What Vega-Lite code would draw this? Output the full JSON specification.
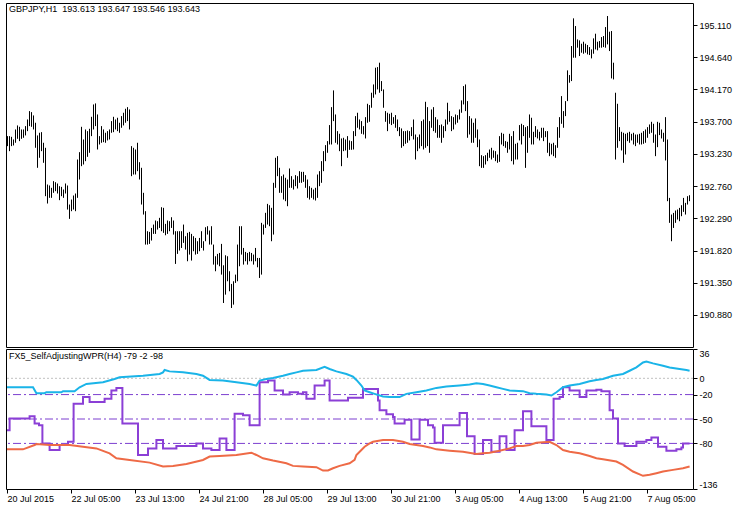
{
"$schema": "https://vega.github.io/schema/vega-lite/v6.json",
"background": "white",
"padding": {"left": 2, "top": 2, "right": 0, "bottom": 0},
"spacing": 2,
"bounds": "flush",
"config": {
  "view": {"stroke": "black", "strokeWidth": 1},
  "font": "Liberation Sans",
  "axis": {"labelFont": "Liberation Sans", "labelFontSize": 9, "labelColor": "black", "tickColor": "black", "tickSize": 4, "domain": false, "grid": false, "labelOverlap": false, "labelPadding": 2, "title": null},
  "text": {"font": "Liberation Sans", "fontSize": 9, "color": "black", "align": "left", "baseline": "top"}
},
"datasets": {
"bars": [
{"i":0,"h":193.489,"l":193.343},{"i":1,"h":193.489,"l":193.270},{"i":2,"h":193.479,"l":193.343},{"i":3,"h":193.440,"l":193.353},{"i":4,"h":193.586,"l":193.392},{"i":5,"h":193.645,"l":193.450},{"i":6,"h":193.625,"l":193.416},{"i":7,"h":193.586,"l":193.450},{"i":8,"h":193.586,"l":193.465},{"i":9,"h":193.635,"l":193.499},
{"i":10,"h":193.732,"l":193.562},{"i":11,"h":193.854,"l":193.635},{"i":12,"h":193.839,"l":193.625},{"i":13,"h":193.791,"l":193.586},{"i":14,"h":193.684,"l":193.319},{"i":15,"h":193.499,"l":193.027},{"i":16,"h":193.538,"l":193.173},{"i":17,"h":193.547,"l":193.270},{"i":18,"h":193.392,"l":193.100},{"i":19,"h":193.319,"l":192.613},
{"i":20,"h":192.783,"l":192.506},{"i":21,"h":192.769,"l":192.589},{"i":22,"h":192.735,"l":192.589},{"i":23,"h":192.832,"l":192.662},{"i":24,"h":192.817,"l":192.686},{"i":25,"h":192.798,"l":192.652},{"i":26,"h":192.759,"l":192.555},{"i":27,"h":192.749,"l":192.613},{"i":28,"h":192.710,"l":192.589},{"i":29,"h":192.798,"l":192.652},
{"i":30,"h":192.769,"l":192.418},{"i":31,"h":192.491,"l":192.282},{"i":32,"h":192.564,"l":192.394},{"i":33,"h":192.623,"l":192.418},{"i":34,"h":192.652,"l":192.394},{"i":35,"h":193.148,"l":192.589},{"i":36,"h":193.255,"l":192.856},{"i":37,"h":193.625,"l":193.051},{"i":38,"h":193.440,"l":193.075},{"i":39,"h":193.586,"l":193.124},
{"i":40,"h":193.562,"l":193.187},{"i":41,"h":193.596,"l":193.246},{"i":42,"h":193.771,"l":193.489},{"i":43,"h":193.951,"l":193.586},{"i":44,"h":193.966,"l":193.635},{"i":45,"h":193.805,"l":193.294},{"i":46,"h":193.489,"l":193.367},{"i":47,"h":193.635,"l":193.392},{"i":48,"h":193.586,"l":193.401},{"i":49,"h":193.538,"l":193.392},
{"i":50,"h":193.562,"l":193.426},{"i":51,"h":193.586,"l":193.440},{"i":52,"h":193.708,"l":193.538},{"i":53,"h":193.771,"l":193.547},{"i":54,"h":193.732,"l":193.586},{"i":55,"h":193.757,"l":193.562},{"i":56,"h":193.684,"l":193.538},{"i":57,"h":193.781,"l":193.611},{"i":58,"h":193.830,"l":193.645},{"i":59,"h":193.888,"l":193.684},
{"i":60,"h":193.912,"l":193.708},{"i":61,"h":193.878,"l":193.586},{"i":62,"h":193.343,"l":192.905},{"i":63,"h":193.319,"l":192.929},{"i":64,"h":193.294,"l":192.929},{"i":65,"h":193.392,"l":192.978},{"i":66,"h":193.109,"l":192.856},{"i":67,"h":193.027,"l":192.491},{"i":68,"h":192.662,"l":192.345},{"i":69,"h":192.394,"l":191.907},
{"i":70,"h":192.102,"l":191.907},{"i":71,"h":192.092,"l":191.917},{"i":72,"h":192.150,"l":191.966},{"i":73,"h":192.199,"l":192.063},{"i":74,"h":192.258,"l":192.063},{"i":75,"h":192.248,"l":192.126},{"i":76,"h":192.297,"l":192.150},{"i":77,"h":192.452,"l":192.102},{"i":78,"h":192.443,"l":192.078},{"i":79,"h":192.209,"l":192.043},
{"i":80,"h":192.258,"l":192.063},{"i":81,"h":192.248,"l":192.102},{"i":82,"h":192.306,"l":192.150},{"i":83,"h":192.258,"l":192.053},{"i":84,"h":192.102,"l":191.625},{"i":85,"h":192.102,"l":191.771},{"i":86,"h":192.102,"l":191.820},{"i":87,"h":192.102,"l":191.858},{"i":88,"h":192.199,"l":191.932},{"i":89,"h":192.029,"l":191.834},
{"i":90,"h":192.078,"l":191.664},{"i":91,"h":192.092,"l":191.761},{"i":92,"h":192.063,"l":191.674},{"i":93,"h":192.029,"l":191.810},{"i":94,"h":192.004,"l":191.761},{"i":95,"h":191.956,"l":191.771},{"i":96,"h":192.004,"l":191.810},{"i":97,"h":192.102,"l":191.858},{"i":98,"h":191.956,"l":191.820},{"i":99,"h":192.160,"l":191.956},
{"i":100,"h":192.175,"l":192.053},{"i":101,"h":192.112,"l":191.907},{"i":102,"h":192.175,"l":191.907},{"i":103,"h":191.907,"l":191.615},{"i":104,"h":191.737,"l":191.518},{"i":105,"h":191.771,"l":191.615},{"i":106,"h":191.785,"l":191.591},{"i":107,"h":191.917,"l":191.469},{"i":108,"h":191.605,"l":191.055},{"i":109,"h":191.751,"l":191.177},
{"i":110,"h":191.737,"l":191.372},{"i":111,"h":191.518,"l":191.226},{"i":112,"h":191.333,"l":190.982},{"i":113,"h":191.372,"l":191.031},{"i":114,"h":191.469,"l":191.348},{"i":115,"h":191.907,"l":191.372},{"i":116,"h":192.175,"l":191.591},{"i":117,"h":192.175,"l":191.761},{"i":118,"h":191.858,"l":191.615},{"i":119,"h":191.800,"l":191.664},
{"i":120,"h":191.785,"l":191.615},{"i":121,"h":191.800,"l":191.664},{"i":122,"h":191.785,"l":191.664},{"i":123,"h":191.761,"l":191.615},{"i":124,"h":191.858,"l":191.664},{"i":125,"h":191.712,"l":191.576},{"i":126,"h":191.712,"l":191.420},{"i":127,"h":192.224,"l":191.469},{"i":128,"h":192.199,"l":192.053},{"i":129,"h":192.370,"l":192.150},
{"i":130,"h":192.501,"l":192.199},{"i":131,"h":192.481,"l":192.175},{"i":132,"h":192.443,"l":191.956},{"i":133,"h":192.808,"l":192.053},{"i":134,"h":193.173,"l":192.735},{"i":135,"h":193.197,"l":192.905},{"i":136,"h":193.027,"l":192.662},{"i":137,"h":192.905,"l":192.662},{"i":138,"h":192.929,"l":192.564},{"i":139,"h":192.881,"l":192.540},
{"i":140,"h":192.856,"l":192.467},{"i":141,"h":193.017,"l":192.735},{"i":142,"h":192.905,"l":192.735},{"i":143,"h":192.856,"l":192.710},{"i":144,"h":192.920,"l":192.759},{"i":145,"h":192.905,"l":192.725},{"i":146,"h":192.978,"l":192.808},{"i":147,"h":192.968,"l":192.808},{"i":148,"h":192.968,"l":192.822},{"i":149,"h":192.920,"l":192.735},
{"i":150,"h":192.856,"l":192.589},{"i":151,"h":192.759,"l":192.564},{"i":152,"h":192.735,"l":192.589},{"i":153,"h":192.710,"l":192.564},{"i":154,"h":192.735,"l":192.550},{"i":155,"h":192.929,"l":192.589},{"i":156,"h":192.978,"l":192.759},{"i":157,"h":193.124,"l":192.808},{"i":158,"h":193.270,"l":192.978},{"i":159,"h":193.358,"l":193.124},
{"i":160,"h":193.416,"l":193.246},{"i":161,"h":193.650,"l":193.367},{"i":162,"h":193.912,"l":193.367},{"i":163,"h":194.156,"l":193.708},{"i":164,"h":193.805,"l":193.392},{"i":165,"h":193.562,"l":193.367},{"i":166,"h":193.523,"l":193.270},{"i":167,"h":193.455,"l":193.051},{"i":168,"h":193.465,"l":193.270},{"i":169,"h":193.440,"l":193.280},
{"i":170,"h":193.489,"l":193.173},{"i":171,"h":193.426,"l":193.289},{"i":172,"h":193.416,"l":193.289},{"i":173,"h":193.562,"l":193.294},{"i":174,"h":193.781,"l":193.489},{"i":175,"h":193.830,"l":193.611},{"i":176,"h":193.732,"l":193.586},{"i":177,"h":193.708,"l":193.523},{"i":178,"h":193.635,"l":193.513},{"i":179,"h":193.766,"l":193.455},
{"i":180,"h":193.961,"l":193.684},{"i":181,"h":193.942,"l":193.698},{"i":182,"h":194.122,"l":193.903},{"i":183,"h":194.243,"l":194.049},{"i":184,"h":194.487,"l":194.097},{"i":185,"h":194.496,"l":194.170},{"i":186,"h":194.560,"l":194.122},{"i":187,"h":194.292,"l":194.146},{"i":188,"h":194.170,"l":193.903},{"i":189,"h":193.854,"l":193.698},
{"i":190,"h":193.830,"l":193.562},{"i":191,"h":193.815,"l":193.669},{"i":192,"h":193.830,"l":193.650},{"i":193,"h":193.766,"l":193.669},{"i":194,"h":193.796,"l":193.611},{"i":195,"h":193.732,"l":193.562},{"i":196,"h":193.620,"l":193.489},{"i":197,"h":193.601,"l":193.319},{"i":198,"h":193.562,"l":193.343},{"i":199,"h":193.562,"l":193.377},
{"i":200,"h":193.572,"l":193.392},{"i":201,"h":193.562,"l":193.426},{"i":202,"h":193.620,"l":193.489},{"i":203,"h":193.732,"l":193.440},{"i":204,"h":193.513,"l":193.148},{"i":205,"h":193.474,"l":193.270},{"i":206,"h":193.513,"l":193.309},{"i":207,"h":193.708,"l":193.343},{"i":208,"h":193.732,"l":193.294},{"i":209,"h":193.990,"l":193.319},
{"i":210,"h":193.912,"l":193.343},{"i":211,"h":193.708,"l":193.246},{"i":212,"h":193.878,"l":193.611},{"i":213,"h":193.912,"l":193.562},{"i":214,"h":193.766,"l":193.538},{"i":215,"h":193.732,"l":193.465},{"i":216,"h":193.650,"l":193.465},{"i":217,"h":193.659,"l":193.392},{"i":218,"h":193.635,"l":193.465},{"i":219,"h":193.732,"l":193.562},
{"i":220,"h":193.976,"l":193.659},{"i":221,"h":193.854,"l":193.698},{"i":222,"h":193.781,"l":193.562},{"i":223,"h":193.766,"l":193.586},{"i":224,"h":193.805,"l":193.659},{"i":225,"h":193.795,"l":193.684},{"i":226,"h":193.878,"l":193.732},{"i":227,"h":194.010,"l":193.830},{"i":228,"h":194.219,"l":193.951},{"i":229,"h":194.243,"l":193.854},
{"i":230,"h":194.000,"l":193.465},{"i":231,"h":193.781,"l":193.513},{"i":232,"h":193.747,"l":193.392},{"i":233,"h":193.684,"l":193.392},{"i":234,"h":193.747,"l":193.465},{"i":235,"h":193.586,"l":193.328},{"i":236,"h":193.440,"l":193.051},{"i":237,"h":193.211,"l":193.026},{"i":238,"h":193.197,"l":193.026},{"i":239,"h":193.211,"l":193.075},
{"i":240,"h":193.246,"l":193.124},{"i":241,"h":193.294,"l":193.173},{"i":242,"h":193.319,"l":193.148},{"i":243,"h":193.280,"l":193.173},{"i":244,"h":193.270,"l":193.124},{"i":245,"h":193.221,"l":193.100},{"i":246,"h":193.489,"l":193.114},{"i":247,"h":193.538,"l":193.367},{"i":248,"h":193.523,"l":193.343},{"i":249,"h":193.416,"l":193.319},
{"i":250,"h":193.406,"l":193.246},{"i":251,"h":193.523,"l":193.294},{"i":252,"h":193.489,"l":193.124},{"i":253,"h":193.562,"l":193.075},{"i":254,"h":193.377,"l":193.148},{"i":255,"h":193.392,"l":193.148},{"i":256,"h":193.650,"l":193.426},{"i":257,"h":193.669,"l":193.367},{"i":258,"h":193.650,"l":193.489},{"i":259,"h":193.620,"l":193.026},
{"i":260,"h":193.635,"l":193.246},{"i":261,"h":193.805,"l":193.465},{"i":262,"h":193.757,"l":193.367},{"i":263,"h":193.552,"l":193.367},{"i":264,"h":193.635,"l":193.474},{"i":265,"h":193.586,"l":193.455},{"i":266,"h":193.552,"l":193.426},{"i":267,"h":193.611,"l":193.465},{"i":268,"h":193.611,"l":193.416},{"i":269,"h":193.562,"l":193.474},
{"i":270,"h":193.562,"l":193.246},{"i":271,"h":193.392,"l":193.197},{"i":272,"h":193.377,"l":193.221},{"i":273,"h":193.392,"l":193.197},{"i":274,"h":193.357,"l":193.173},{"i":275,"h":193.620,"l":193.319},{"i":276,"h":193.766,"l":193.465},{"i":277,"h":194.073,"l":193.669},{"i":278,"h":193.854,"l":193.611},{"i":279,"h":194.000,"l":193.781},
{"i":280,"h":194.448,"l":194.000},{"i":281,"h":194.380,"l":194.268},{"i":282,"h":194.803,"l":194.292},{"i":283,"h":195.207,"l":194.633},{"i":284,"h":195.095,"l":194.633},{"i":285,"h":194.900,"l":194.779},{"i":286,"h":194.886,"l":194.657},{"i":287,"h":194.837,"l":194.706},{"i":288,"h":194.866,"l":194.691},{"i":289,"h":194.837,"l":194.706},
{"i":290,"h":194.818,"l":194.681},{"i":291,"h":194.788,"l":194.672},{"i":292,"h":194.754,"l":194.623},{"i":293,"h":194.915,"l":194.691},{"i":294,"h":194.983,"l":194.754},{"i":295,"h":194.866,"l":194.740},{"i":296,"h":194.876,"l":194.779},{"i":297,"h":194.934,"l":194.779},{"i":298,"h":194.949,"l":194.788},{"i":299,"h":195.080,"l":194.779},
{"i":300,"h":195.241,"l":194.827},{"i":301,"h":195.012,"l":194.730},{"i":302,"h":195.022,"l":194.331},{"i":303,"h":194.560,"l":194.316},{"i":304,"h":194.122,"l":193.148},{"i":305,"h":193.961,"l":193.319},{"i":306,"h":193.620,"l":193.416},{"i":307,"h":193.552,"l":193.280},{"i":308,"h":193.538,"l":193.100},{"i":309,"h":193.523,"l":193.221},
{"i":310,"h":193.538,"l":193.416},{"i":311,"h":193.552,"l":193.392},{"i":312,"h":193.523,"l":193.426},{"i":313,"h":193.538,"l":193.367},{"i":314,"h":193.513,"l":193.343},{"i":315,"h":193.513,"l":193.392},{"i":316,"h":193.523,"l":193.367},{"i":317,"h":193.538,"l":193.367},{"i":318,"h":193.562,"l":193.377},{"i":319,"h":193.586,"l":193.392},
{"i":320,"h":193.620,"l":193.465},{"i":321,"h":193.659,"l":193.523},{"i":322,"h":193.698,"l":193.538},{"i":323,"h":193.669,"l":193.392},{"i":324,"h":193.513,"l":193.197},{"i":325,"h":193.698,"l":193.328},{"i":326,"h":193.684,"l":193.504},{"i":327,"h":193.586,"l":193.455},{"i":328,"h":193.538,"l":193.406},{"i":329,"h":193.766,"l":193.134},
{"i":330,"h":193.440,"l":192.540},{"i":331,"h":192.588,"l":192.224},{"i":332,"h":192.345,"l":191.956},{"i":333,"h":192.369,"l":192.150},{"i":334,"h":192.404,"l":192.224},{"i":335,"h":192.418,"l":192.272},{"i":336,"h":192.442,"l":192.248},{"i":337,"h":192.481,"l":192.321},{"i":338,"h":192.588,"l":192.384},{"i":339,"h":192.515,"l":192.345},
{"i":340,"h":192.613,"l":192.491},{"i":341,"h":192.627,"l":192.540}
],
"cyan": [
{"i":0,"v":-11},{"i":13,"v":-11},{"i":14.7,"v":-18.3},{"i":18.8,"v":-18.3},{"i":19.7,"v":-17.1},{"i":27.2,"v":-17.1},{"i":28,"v":-15.8},{"i":33.8,"v":-15.8},{"i":36.3,"v":-11},{"i":39.7,"v":-6.9},{"i":48,"v":-4.9},{"i":53.8,"v":-0.8},{"i":56.3,"v":1.2},{"i":68,"v":3.2},{"i":76.3,"v":5.3},{"i":78,"v":7.3},{"i":78.8,"v":10.2},{"i":81.3,"v":8.5},{"i":88,"v":7.3},{"i":94.7,"v":5.3},{"i":98,"v":3.2},{"i":101.3,"v":-2},{"i":108,"v":-2.8},{"i":114.7,"v":-4.9},{"i":121.3,"v":-6.9},{"i":124.7,"v":-8.9},{"i":126.3,"v":-2.8},{"i":129.7,"v":-0.8},{"i":133,"v":0.4},{"i":138,"v":3.2},{"i":141.3,"v":5.3},{"i":144.7,"v":7.3},{"i":148,"v":9.3},{"i":154.7,"v":10.2},{"i":158.8,"v":14.2},{"i":161.3,"v":11.4},{"i":164.7,"v":8.5},{"i":169.7,"v":5.3},{"i":173,"v":2},{"i":174.7,"v":-2},{"i":177.2,"v":-8.9},{"i":178.8,"v":-15},{"i":181.3,"v":-17.1},{"i":183.8,"v":-19.1},{"i":188,"v":-22.3},{"i":191.3,"v":-23.1},{"i":196.3,"v":-23.1},{"i":199.7,"v":-19.1},{"i":204.7,"v":-17.1},{"i":209.7,"v":-15},{"i":214.7,"v":-11.8},{"i":219.7,"v":-10.2},{"i":226.3,"v":-8.9},{"i":231.3,"v":-7.7},{"i":234.7,"v":-6.1},{"i":238,"v":-6.9},{"i":241.3,"v":-8.9},{"i":244.7,"v":-11},{"i":248,"v":-13},{"i":251.3,"v":-15},{"i":258,"v":-15.8},{"i":261.3,"v":-18.3},{"i":264.7,"v":-19.1},{"i":269.7,"v":-19.9},{"i":272.2,"v":-21.1},{"i":274.7,"v":-17.1},{"i":278,"v":-11},{"i":281.3,"v":-8.9},{"i":286.3,"v":-6.9},{"i":291.3,"v":-3.7},{"i":294.7,"v":-2},{"i":298,"v":-0.8},{"i":303,"v":3.2},{"i":308,"v":5.3},{"i":311.3,"v":9.3},{"i":314.7,"v":13.4},{"i":318,"v":19.5},{"i":319.7,"v":20.7},{"i":323,"v":18.3},{"i":328,"v":15.4},{"i":331.3,"v":13.4},{"i":336.3,"v":11.4},{"i":339.7,"v":10.2},{"i":341.3,"v":9.3}
],
"purple": [
{"i":0,"v":-63.8},{"i":1.3,"v":-49.5},{"i":11.3,"v":-46.7},{"i":13.8,"v":-55.6},{"i":16,"v":-57.7},{"i":17.7,"v":-80},{"i":21.3,"v":-88.1},{"i":26.3,"v":-82},{"i":30.5,"v":-78},{"i":33.3,"v":-31.3},{"i":38,"v":-23.1},{"i":41.3,"v":-29.2},{"i":48.8,"v":-25.2},{"i":52.2,"v":-15},{"i":54.7,"v":-11.8},{"i":57.7,"v":-55.6},{"i":65.5,"v":-94.2},{"i":70.5,"v":-86.1},{"i":74.7,"v":-75.9},{"i":78,"v":-86.1},{"i":84.7,"v":-83.3},{"i":94.7,"v":-80},{"i":98,"v":-86.1},{"i":102.2,"v":-88.1},{"i":106.3,"v":-73.9},{"i":109.7,"v":-88.1},{"i":113.8,"v":-43.5},{"i":118,"v":-45.5},{"i":121.3,"v":-57.7},{"i":126.3,"v":-4.9},{"i":130.5,"v":-2.8},{"i":133.8,"v":-15},{"i":138,"v":-19.9},{"i":141.3,"v":-17.1},{"i":145.5,"v":-19.1},{"i":148,"v":-17.1},{"i":149.7,"v":-25.2},{"i":153.8,"v":-8.9},{"i":158.8,"v":-2.8},{"i":161.3,"v":-27.2},{"i":170.5,"v":-24},{"i":178,"v":-13},{"i":185.5,"v":-27.2},{"i":186.3,"v":-39.4},{"i":189.7,"v":-44.3},{"i":193,"v":-47.5},{"i":193.8,"v":-55.6},{"i":198.8,"v":-50.8},{"i":202.2,"v":-75.1},{"i":206.3,"v":-50.8},{"i":210.5,"v":-57.7},{"i":213,"v":-60.5},{"i":213.8,"v":-79.2},{"i":218,"v":-57.7},{"i":226.3,"v":-42.6},{"i":230,"v":-71.1},{"i":233.8,"v":-93},{"i":238,"v":-75.9},{"i":242.2,"v":-90.2},{"i":246.3,"v":-71.1},{"i":249.7,"v":-88.1},{"i":253.8,"v":-63.8},{"i":258,"v":-40.6},{"i":262.2,"v":-58.9},{"i":269.7,"v":-75.9},{"i":273.3,"v":-25.2},{"i":276.3,"v":-23.1},{"i":278,"v":-11},{"i":281.3,"v":-15},{"i":286.3,"v":-23.1},{"i":289.7,"v":-15},{"i":294.7,"v":-14.2},{"i":297.2,"v":-15.8},{"i":301.3,"v":-39.4},{"i":303,"v":-49.5},{"i":305.5,"v":-80},{"i":308.8,"v":-83.3},{"i":314.7,"v":-78},{"i":319.7,"v":-75.9},{"i":322.2,"v":-72.7},{"i":325.5,"v":-84.1},{"i":329.7,"v":-88.9},{"i":334.7,"v":-87.3},{"i":337.2,"v":-84.9},{"i":338,"v":-80},{"i":341.3,"v":-80}
],
"orange": [
{"i":0,"v":-87.3},{"i":8,"v":-87.3},{"i":13.8,"v":-82},{"i":14.7,"v":-80.8},{"i":21.3,"v":-82},{"i":31.3,"v":-82},{"i":38,"v":-84.1},{"i":44.7,"v":-86.1},{"i":51.3,"v":-92.2},{"i":54.7,"v":-98.3},{"i":61.3,"v":-100.3},{"i":71.3,"v":-103.6},{"i":78,"v":-108.4},{"i":83,"v":-107.6},{"i":89.7,"v":-105.2},{"i":98,"v":-100.3},{"i":101.3,"v":-96.2},{"i":106.3,"v":-95.4},{"i":114.7,"v":-94.2},{"i":122.2,"v":-91.4},{"i":124.7,"v":-94.2},{"i":128,"v":-98.3},{"i":133,"v":-101.1},{"i":139.7,"v":-104.4},{"i":143,"v":-107.6},{"i":148,"v":-108.4},{"i":154.7,"v":-109.2},{"i":158,"v":-113.3},{"i":160.5,"v":-113.3},{"i":163,"v":-110.5},{"i":166.3,"v":-107.6},{"i":171.3,"v":-104.4},{"i":173.8,"v":-100.3},{"i":174.7,"v":-94.2},{"i":177.2,"v":-88.1},{"i":178.8,"v":-84.1},{"i":181.3,"v":-80},{"i":183,"v":-78},{"i":188,"v":-75.9},{"i":193,"v":-75.9},{"i":198,"v":-78},{"i":201.3,"v":-80.8},{"i":208,"v":-83.3},{"i":211.3,"v":-84.9},{"i":214.7,"v":-87.3},{"i":221.3,"v":-88.9},{"i":228,"v":-90.2},{"i":234.7,"v":-93},{"i":238,"v":-92.2},{"i":241.3,"v":-91.4},{"i":246.3,"v":-88.9},{"i":251.3,"v":-86.1},{"i":254.7,"v":-83.3},{"i":258,"v":-83.3},{"i":261.3,"v":-82},{"i":264.7,"v":-79.2},{"i":271.3,"v":-78},{"i":274.7,"v":-82},{"i":278,"v":-88.1},{"i":281.3,"v":-90.2},{"i":286.3,"v":-92.2},{"i":291.3,"v":-95.4},{"i":294.7,"v":-98.3},{"i":298,"v":-99.5},{"i":304.7,"v":-102.3},{"i":308,"v":-106.4},{"i":313,"v":-114.5},{"i":318,"v":-119.8},{"i":321.3,"v":-118.6},{"i":324.7,"v":-116.6},{"i":328,"v":-114.5},{"i":333,"v":-112.5},{"i":338,"v":-110.5},{"i":341.3,"v":-108.4}
]
},
"vconcat": [
{
  "width": 687, "height": 344,
  "layer": [
    {
      "data": {"name": "bars"},
      "mark": {"type": "rule", "color": "black", "strokeWidth": 1, "xOffset": 0.5},
      "encoding": {
        "x": {"field": "i", "type": "quantitative", "scale": {"domain": [-0.5, 343], "nice": false, "zero": false}, "axis": null},
        "y": {"field": "h", "type": "quantitative", "scale": {"domain": [190.413, 195.431], "nice": false, "zero": false}, "axis": {"orient": "right", "values": [190.88, 191.35, 191.82, 192.29, 192.76, 193.23, 193.7, 194.17, 194.64, 195.11], "format": ".3f", "labelFlush": false, "labelOverlap": false}},
        "y2": {"field": "l"}
      }
    },
    {
      "data": {"values": [{"t": "GBPJPY,H1\u00a0 193.613 193.647 193.546 193.643"}]},
      "mark": {"type": "text", "dx": 3, "dy": 2},
      "encoding": {
        "x": {"datum": -0.5, "type": "quantitative", "axis": null},
        "y": {"datum": 195.431, "type": "quantitative", "axis": {"orient": "right", "values": [190.88, 191.35, 191.82, 192.29, 192.76, 193.23, 193.7, 194.17, 194.64, 195.11], "format": ".3f", "labelFlush": false, "labelOverlap": false}},
        "text": {"field": "t"}
      }
    }
  ]
},
{
  "width": 687, "height": 140,
  "layer": [
    {
      "data": {"values": [{"v": 0}]},
      "mark": {"type": "rule", "color": "#c0c0c0", "strokeWidth": 1, "strokeDash": [2, 2]},
      "encoding": {"y": {"field": "v", "type": "quantitative", "scale": {"domain": [-136, 36], "nice": false, "zero": false}, "axis": {"orient": "right", "values": [36, 0, -20, -50, -80, -136], "labelExpr": "datum.value < 0 ? '-' + abs(datum.value) : '' + datum.value", "labelFlush": true, "labelOverlap": false}}}
    },
    {
      "data": {"values": [{"v": -20}, {"v": -50}, {"v": -80}]},
      "mark": {"type": "rule", "color": "#7c3fd0", "strokeWidth": 1, "strokeDash": [8, 3, 2, 3]},
      "encoding": {"y": {"field": "v", "type": "quantitative", "scale": {"domain": [-136, 36], "nice": false, "zero": false}, "axis": {"orient": "right", "values": [36, 0, -20, -50, -80, -136], "labelExpr": "datum.value < 0 ? '-' + abs(datum.value) : '' + datum.value", "labelFlush": true, "labelOverlap": false}}}
    },
    {
      "data": {"name": "purple"},
      "mark": {"type": "line", "color": "#8b3fd6", "strokeWidth": 2, "interpolate": "step-after"},
      "encoding": {
        "x": {"field": "i", "type": "quantitative", "scale": {"domain": [-0.5, 343], "nice": false, "zero": false}, "axis": {"orient": "bottom", "values": [0, 32, 64, 96, 128, 160, 192, 224, 256, 288, 320], "labelExpr": "['20 Jul 2015','22 Jul 05:00','23 Jul 13:00','24 Jul 21:00','28 Jul 05:00','29 Jul 13:00','30 Jul 21:00','3 Aug 05:00','4 Aug 13:00','5 Aug 21:00','7 Aug 05:00'][round(datum.value/32)]", "labelAlign": "left", "labelFlush": false, "labelOverlap": false, "labelPadding": 1}},
        "y": {"field": "v", "type": "quantitative", "scale": {"domain": [-136, 36], "nice": false, "zero": false}, "axis": {"orient": "right", "values": [36, 0, -20, -50, -80, -136], "labelExpr": "datum.value < 0 ? '-' + abs(datum.value) : '' + datum.value", "labelFlush": true, "labelOverlap": false}}
      }
    },
    {
      "data": {"name": "cyan"},
      "mark": {"type": "line", "color": "#1ab4e8", "strokeWidth": 2},
      "encoding": {
        "x": {"field": "i", "type": "quantitative", "scale": {"domain": [-0.5, 343], "nice": false, "zero": false}, "axis": {"orient": "bottom", "values": [0, 32, 64, 96, 128, 160, 192, 224, 256, 288, 320], "labelExpr": "['20 Jul 2015','22 Jul 05:00','23 Jul 13:00','24 Jul 21:00','28 Jul 05:00','29 Jul 13:00','30 Jul 21:00','3 Aug 05:00','4 Aug 13:00','5 Aug 21:00','7 Aug 05:00'][round(datum.value/32)]", "labelAlign": "left", "labelFlush": false, "labelOverlap": false, "labelPadding": 1}},
        "y": {"field": "v", "type": "quantitative", "scale": {"domain": [-136, 36], "nice": false, "zero": false}, "axis": {"orient": "right", "values": [36, 0, -20, -50, -80, -136], "labelExpr": "datum.value < 0 ? '-' + abs(datum.value) : '' + datum.value", "labelFlush": true, "labelOverlap": false}}
      }
    },
    {
      "data": {"name": "orange"},
      "mark": {"type": "line", "color": "#ee6a46", "strokeWidth": 2},
      "encoding": {
        "x": {"field": "i", "type": "quantitative", "scale": {"domain": [-0.5, 343], "nice": false, "zero": false}, "axis": {"orient": "bottom", "values": [0, 32, 64, 96, 128, 160, 192, 224, 256, 288, 320], "labelExpr": "['20 Jul 2015','22 Jul 05:00','23 Jul 13:00','24 Jul 21:00','28 Jul 05:00','29 Jul 13:00','30 Jul 21:00','3 Aug 05:00','4 Aug 13:00','5 Aug 21:00','7 Aug 05:00'][round(datum.value/32)]", "labelAlign": "left", "labelFlush": false, "labelOverlap": false, "labelPadding": 1}},
        "y": {"field": "v", "type": "quantitative", "scale": {"domain": [-136, 36], "nice": false, "zero": false}, "axis": {"orient": "right", "values": [36, 0, -20, -50, -80, -136], "labelExpr": "datum.value < 0 ? '-' + abs(datum.value) : '' + datum.value", "labelFlush": true, "labelOverlap": false}}
      }
    },
    {
      "data": {"values": [{"t": "FX5_SelfAdjustingWPR(H4) -79 -2 -98"}]},
      "mark": {"type": "text", "dx": 3, "dy": 3},
      "encoding": {
        "x": {"datum": -0.5, "type": "quantitative", "axis": {"orient": "bottom", "values": [0, 32, 64, 96, 128, 160, 192, 224, 256, 288, 320], "labelExpr": "['20 Jul 2015','22 Jul 05:00','23 Jul 13:00','24 Jul 21:00','28 Jul 05:00','29 Jul 13:00','30 Jul 21:00','3 Aug 05:00','4 Aug 13:00','5 Aug 21:00','7 Aug 05:00'][round(datum.value/32)]", "labelAlign": "left", "labelFlush": false, "labelOverlap": false, "labelPadding": 1}},
        "y": {"datum": 36, "type": "quantitative", "axis": {"orient": "right", "values": [36, 0, -20, -50, -80, -136], "labelExpr": "datum.value < 0 ? '-' + abs(datum.value) : '' + datum.value", "labelFlush": true, "labelOverlap": false}},
        "text": {"field": "t"}
      }
    }
  ]
}
]
}
